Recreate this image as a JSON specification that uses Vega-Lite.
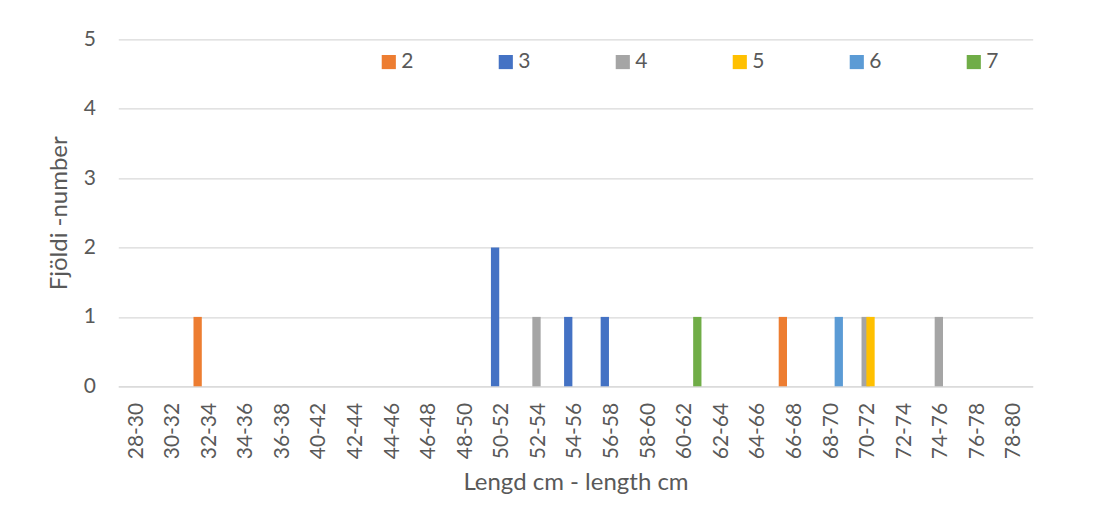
{
  "$schema": "https://vega.github.io/schema/vega-lite/v6.json",
  "autosize": {"type": "none"},
  "width": 914.4,
  "height": 347,
  "padding": {"left": 118.3, "top": 39.3, "right": 87, "bottom": 138},
  "background": "white",
  "config": {
    "font": "Lato",
    "view": {"stroke": null},
    "axis": {
      "labelColor": "#595959",
      "titleColor": "#595959",
      "labelFont": "Lato",
      "titleFont": "Lato",
      "titleFontWeight": "normal",
      "domain": false,
      "ticks": false,
      "gridColor": "#D9D9D9",
      "gridWidth": 1.3
    }
  },
  "data": {
    "values": [
      {"length": "32-34", "age": "2", "count": 1},
      {"length": "50-52", "age": "3", "count": 2},
      {"length": "52-54", "age": "4", "count": 1},
      {"length": "54-56", "age": "3", "count": 1},
      {"length": "56-58", "age": "3", "count": 1},
      {"length": "60-62", "age": "7", "count": 1},
      {"length": "66-68", "age": "2", "count": 1},
      {"length": "68-70", "age": "6", "count": 1},
      {"length": "70-72", "age": "4", "count": 1},
      {"length": "70-72", "age": "5", "count": 1},
      {"length": "74-76", "age": "4", "count": 1}
    ]
  },
  "mark": {"type": "bar", "width": 8.3},
  "encoding": {
    "x": {
      "field": "length",
      "type": "nominal",
      "scale": {
        "domain": ["28-30","30-32","32-34","34-36","36-38","40-42","42-44","44-46","46-48","48-50","50-52","52-54","54-56","56-58","58-60","60-62","62-64","64-66","66-68","68-70","70-72","72-74","74-76","76-78","78-80"],
        "paddingInner": 0,
        "paddingOuter": 0
      },
      "axis": {
        "title": "Lengd cm - length cm",
        "titleFontSize": 24,
        "titlePadding": 12,
        "labelAngle": 270,
        "labelAlign": "right",
        "labelBaseline": "middle",
        "labelFontSize": 21,
        "labelPadding": 16,
        "grid": false,
        "domain": true,
        "domainColor": "#D9D9D9",
        "domainWidth": 1.3
      }
    },
    "xOffset": {
      "field": "age",
      "type": "nominal",
      "scale": {"domain": ["2","3","4","5","6","7"], "paddingInner": 0, "paddingOuter": 0.78}
    },
    "y": {
      "field": "count",
      "type": "quantitative",
      "scale": {"domain": [0, 5], "nice": false},
      "axis": {
        "title": "Fjöldi -number",
        "titleFontSize": 24,
        "titlePadding": 12,
        "labelFontSize": 21,
        "labelPadding": 23,
        "values": [0, 1, 2, 3, 4, 5],
        "format": "d",
        "grid": true
      }
    },
    "color": {
      "field": "age",
      "type": "nominal",
      "scale": {
        "domain": ["2","3","4","5","6","7"],
        "range": ["#ED7D31","#4472C4","#A5A5A5","#FFC000","#5B9BD5","#70AD47"]
      },
      "legend": {
        "title": null,
        "orient": "none",
        "direction": "horizontal",
        "legendX": 260,
        "legendY": 12,
        "symbolType": "square",
        "symbolSize": 200,
        "symbolStrokeWidth": 0,
        "symbolOpacity": 1,
        "labelFontSize": 21,
        "labelColor": "#595959",
        "labelOffset": 2,
        "columnPadding": 81,
        "padding": 0
      }
    }
  }
}
